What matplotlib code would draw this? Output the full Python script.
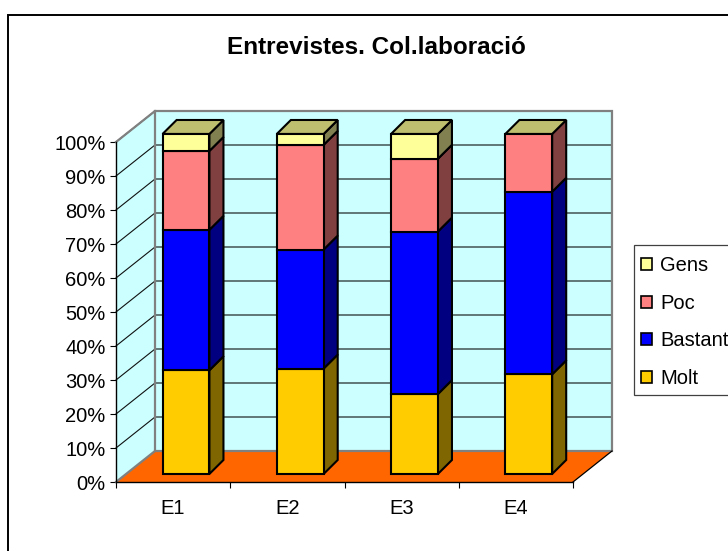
import matplotlib
matplotlib.use("Agg")
import matplotlib.pyplot as plt
from matplotlib.patches import Polygon, Patch, Rectangle
import numpy as np

plt.rcParams['font.family'] = ['Liberation Sans', 'DejaVu Sans']

# Data
categories = ['E1', 'E2', 'E3', 'E4']
series_names = ['Molt', 'Bastant', 'Poc', 'Gens']
molt = [30.5, 31.0, 23.5, 29.3]
bastant = [41.3, 35.0, 47.8, 53.7]
poc = [23.2, 30.8, 21.4, 17.0]
gens = [5.0, 3.2, 7.3, 0.0]
series = [molt, bastant, poc, gens]
yticks = list(range(0, 101, 10))

# Style
front = ['#FFCC00', '#0000FF', '#FF8080', '#FFFF99']
side = ['#806600', '#000080', '#804040', '#808050']
top_col = '#BFBF70'
W, H = 728, 551
L, R, T, B = 116, 573, 142, 482
DX_PX, DY_PX = 39, 31
BAR_W = 0.41
BAR_FRONT = (0.33, 0.26)
BAR_BACK = (0.69, 0.71)

fig = plt.figure(figsize=(W / 100, H / 100), dpi=100, facecolor='white')
fig.add_artist(Rectangle((8 / W, -0.1), 1.2, 1.1 - 14.5 / H, transform=fig.transFigure,
                         fc='none', ec='black', lw=1.4, zorder=-1))
fig.add_artist(Rectangle((634 / W, 1 - 395 / H), 0.2, 150 / H, transform=fig.transFigure,
                         fc='white', ec='#404040', lw=0.9, zorder=-1))
ax = fig.add_axes([L / W, 1 - B / H, (R - L) / W, (B - T) / H])
ax.set_xlim(0, len(categories))
ax.set_ylim(0, 100)
ax.patch.set_alpha(0)

dx = DX_PX / ((R - L) / len(categories))
dy = DY_PX / ((B - T) / 100)


def P(x, y, d=(0.0, 0.0)):
    return (x + d[0] * dx, y + d[1] * dy)


BACK = (1.0, 1.0)
n = len(categories)
def poly(pts, fc, ec='none', lw=0, z=1):
    ax.add_patch(Polygon(pts, closed=True, fc=fc, ec=ec, lw=lw, zorder=z, clip_on=False,
                         joinstyle='miter'))

# Walls and floor
poly([P(0, 0, BACK), P(n, 0, BACK), P(n, 100, BACK), P(0, 100, BACK)], '#CCFFFF', z=1)
poly([P(0, 0), P(0, 0, BACK), P(0, 100, BACK), P(0, 100)], '#CCFFFF', z=1)
poly([P(0, 0), P(n, 0), P(n, 0, BACK), P(0, 0, BACK)], '#FF6600', z=1)
for v in yticks[1:]:
    a, b, c = P(0, v), P(0, v, BACK), P(n, v, BACK)
    ax.plot([a[0], b[0], c[0]], [a[1], b[1], c[1]], color='#101010', lw=0.8, zorder=2, clip_on=False)
gray = dict(color='#808080', lw=1.6, zorder=3, clip_on=False, solid_joinstyle='miter')
for pts in ([P(0, 100), P(0, 100, BACK), P(n, 100, BACK), P(n, 0, BACK), P(0, 0, BACK), P(0, 100, BACK)],
            [P(0, 0), P(0, 0, BACK)]):
    ax.plot([p[0] for p in pts], [p[1] for p in pts], **gray)
a, b = P(n, 0), P(n, 0, BACK)
ax.plot([a[0], b[0]], [a[1], b[1]], color='black', lw=0.9, zorder=3, clip_on=False)

# Stacked bars
for i in range(n):
    xl = i + 0.5 - BAR_W / 2
    xr = i + 0.5 + BAR_W / 2
    base = 0.0
    for s, vals in enumerate(series):
        top = base + vals[i]
        if vals[i] > 0:
            poly([P(xr, base, BAR_FRONT), P(xr, base, BAR_BACK), P(xr, top, BAR_BACK), P(xr, top, BAR_FRONT)],
                 side[s], 'black', 1.5, 5)
            poly([P(xl, base, BAR_FRONT), P(xr, base, BAR_FRONT), P(xr, top, BAR_FRONT), P(xl, top, BAR_FRONT)],
                 front[s], 'black', 1.5, 6)
        base = top
    poly([P(xl, base, BAR_FRONT), P(xr, base, BAR_FRONT), P(xr, base, BAR_BACK), P(xl, base, BAR_BACK)],
         top_col, 'black', 1.5, 6)

# Axes
for sp in ('top', 'right'):
    ax.spines[sp].set_visible(False)
for sp in ('left', 'bottom'):
    ax.spines[sp].set_linewidth(1.0)
    ax.spines[sp].set_zorder(4)
ax.set_yticks(yticks)
ax.set_yticklabels([f'{v}%' for v in yticks], fontsize=14.5)
ax.set_xticks(range(n + 1))
ax.set_xticklabels([])
ax.set_xticks(np.arange(n) + 0.5, minor=True)
ax.set_xticklabels(categories, minor=True, fontsize=14.5)
ax.tick_params(axis='x', which='major', length=4.5, width=0.8)
ax.tick_params(axis='x', which='minor', length=0, pad=12)
ax.tick_params(axis='y', length=4, width=0.8, pad=3.5)

fig.text(376 / W, 1 - 48 / H, 'Entrevistes. Col.laboració', fontsize=17.5, fontweight='bold',
         ha='center', va='center')

handles = [Patch(fc=front[s], ec='black', lw=1.2) for s in range(3, -1, -1)]
leg = fig.legend(handles, series_names[::-1], loc='center left',
                 bbox_to_anchor=(641 / W, 1 - 322 / H), fontsize=14.5, frameon=False,
                 labelspacing=0.92, handlelength=0.53, handleheight=0.53, handletextpad=0.42,
                 borderpad=0, borderaxespad=0)

fig.savefig('out.png', dpi=100, facecolor='white')
